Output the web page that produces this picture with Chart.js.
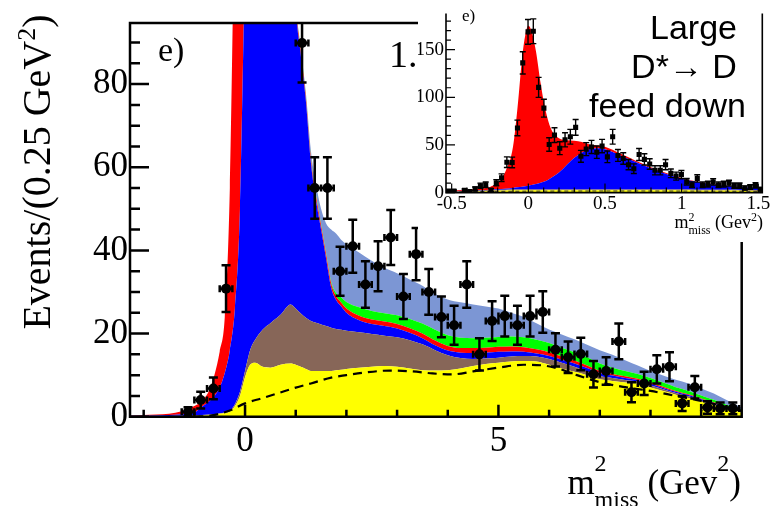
<!DOCTYPE html>
<html>
<head>
<meta charset="utf-8">
<script src="https://cdn.jsdelivr.net/npm/chart.js@4.4.1/dist/chart.umd.min.js"></script>
<style>
  html, body { margin: 0; padding: 0; background: #fff; }
  #wrap { position: relative; width: 771px; height: 506px; overflow: hidden; }
  #main { position: absolute; left: 0; top: 0; }
  #inset { position: absolute; left: 418px; top: 0; background: #fff; }
</style>
</head>
<body>
<div id="wrap">
  <canvas id="main" width="771" height="506"></canvas>
  <canvas id="inset" width="353" height="242"></canvas>
</div>
<script>
const SERIF = '"Liberation Serif", "Times New Roman", serif'
const SANS = '"Liberation Sans", Arial, sans-serif'

// ---------- main plot: fit components (upper edge of each stacked band) ----------
const modelX = [-2.27, -1.75, -1.5, -1.25, -1.0, -0.85, -0.7, -0.6, -0.5, -0.4, -0.3, -0.2, -0.1, 0, 0.1, 0.2, 0.35, 0.5, 0.7, 0.9,
  1.0, 1.1, 1.2, 1.3, 1.4, 1.5, 1.6, 1.7, 1.8, 1.9, 2.0, 2.25, 2.5, 2.75, 3.0, 3.25, 3.5, 3.75, 4.0, 4.25, 4.5, 4.75,
  5.0, 5.25, 5.5, 5.75, 6.0, 6.25, 6.5, 6.75, 7.0, 7.25, 7.5, 7.75, 8.0, 8.25, 8.5, 8.75, 9.0, 9.25, 9.5, 9.8]
const yellowTop = [0, 0, 0.05, 0.1, 0.2, 0.3, 0.4, 0.5, 0.7, 0.9, 1.2, 2.5, 5, 9.5, 12.5, 13, 12, 11.8, 12.5, 12.8,
  12.5, 12, 11.5, 11, 11, 11, 11, 11, 11.2, 11.3, 11.5, 11.8, 12, 12.2, 12, 11.6, 11.2, 11.1, 11.2, 11.6, 12.2, 12.7,
  13, 13.3, 13.4, 13.3, 12.5, 11.6, 10.8, 10, 9, 8.6, 8.2, 7.9, 7, 6.2, 5.3, 4.5, 3.6, 2.8, 1.9, 1.0]
const brownTop = [0.1, 0.1, 0.15, 0.2, 0.3, 0.4, 0.5, 0.6, 0.8, 1.0, 1.4, 3, 6, 11, 16, 18.5, 21, 22.5, 24.5, 27,
  26, 24.8, 23.8, 23, 22.6, 22.2, 21.8, 21.4, 21.1, 20.9, 20.7, 20.3, 19.9, 19.5, 19.1, 18.4, 17.4, 16.0, 14.8, 14.1, 13.9, 14.0,
  14.2, 14.5, 14.6, 14.5, 13.9, 13.0, 12.0, 10.9, 9.8, 9.3, 8.8, 8.4, 7.5, 6.6, 5.7, 4.9, 3.9, 3.1, 2.1, 1.2]
const blueTop = [0.2, 0.3, 0.4, 0.6, 1.0, 2.4, 3.8, 5, 7, 10.5, 16, 26, 50, 110, 160, 200, 220, 220, 200, 140,
  100, 87, 76, 61, 52, 45, 38, 31, 28, 26.5, 25, 23.2, 22.3, 21.8, 21.2, 20.2, 18.9, 17.2, 15.9, 15.4, 15.3, 15.4,
  15.6, 15.7, 15.6, 15.2, 14.6, 13.7, 12.8, 11.7, 10.5, 9.9, 9.3, 8.8, 7.9, 6.9, 6.0, 5.2, 4.2, 3.3, 2.3, 1.35]
const redTop = [0.3, 0.5, 0.7, 1.3, 2.6, 3.8, 6.5, 10.2, 15.7, 24, 55, 130, 200, 260, 280, 280, 260, 240, 208, 143,
  101.5, 88, 77, 62, 53, 46, 39, 32, 28.9, 27.4, 26, 24.3, 23.4, 22.9, 22.3, 21.3, 20.0, 18.3, 17.0, 16.5, 16.5, 16.6,
  16.8, 16.9, 16.7, 16.2, 15.5, 14.5, 13.5, 12.3, 11.0, 10.3, 9.7, 9.1, 8.2, 7.2, 6.2, 5.4, 4.4, 3.45, 2.4, 1.4]
const greenTop = [0.3, 0.5, 0.7, 1.3, 2.6, 3.8, 6.5, 10.2, 15.7, 24, 55, 130, 200, 260, 280, 280, 260, 240, 208, 143,
  101.8, 88.3, 77.3, 62.3, 53.3, 46.3, 39.3, 32.4, 29.7, 28.7, 27.6, 26.3, 25.4, 24.9, 24.4, 23.5, 22.4, 20.9, 19.6, 19.0, 18.9, 19.0,
  19.2, 19.3, 19.1, 18.5, 17.7, 16.6, 15.5, 14.3, 12.8, 11.8, 11.0, 10.3, 9.3, 8.2, 7.1, 6.2, 5.1, 4.05, 2.9, 1.7]
const totalTop = [0.3, 0.5, 0.7, 1.3, 2.6, 3.8, 6.5, 10.2, 15.7, 24, 55, 130, 200, 260, 280, 280, 260, 240, 208, 143,
  101.9, 88.6, 78, 64, 56, 50, 46.5, 45, 44, 42.5, 41.5, 39.5, 37.5, 35.8, 34.5, 33, 31.5, 29.5, 28.2, 27.5, 27, 26.5,
  26, 25, 24, 22.5, 21, 19.8, 18.6, 17.3, 16, 14.9, 13.6, 12.3, 11.0, 9.9, 8.9, 8.0, 6.8, 5.6, 4.0, 2.2]

const dashX = [-1.0, -0.66, -0.3, 0, 0.35, 0.69, 1.0, 1.3, 1.7, 2.0, 2.35, 2.85, 3.3, 3.7, 4.1, 4.5, 5.0, 5.5, 5.9, 6.2,
  6.5, 7.0, 7.5, 8.0, 8.5, 9.0, 9.6, 9.8]
const dashY = [0, 0.3, 1.5, 3.2, 4.5, 5.8, 7.0, 8.0, 9.4, 10.0, 10.6, 11.1, 10.9, 10.4, 10.2, 10.9, 11.8, 12.5, 12.3, 11.5,
  10.2, 8.3, 7.1, 6.2, 5.0, 3.8, 2.0, 1.4]

// data points (bins of 0.25 GeV^2), bins above the frame are left out
const dataX = [-1.125, -0.875, -0.625, -0.375, 1.125, 1.375, 1.625, 1.875, 2.125, 2.375, 2.625, 2.875, 3.125, 3.375, 3.625,
  3.875, 4.125, 4.375, 4.625, 4.875, 5.125, 5.375, 5.625, 5.875, 6.125, 6.375, 6.625, 6.875, 7.125, 7.375, 7.625, 7.875,
  8.125, 8.375, 8.625, 8.875, 9.125, 9.375, 9.625]
const dataY = [1.2, 4, 6.8, 30.8, 89.9, 55, 55, 35, 41, 31.8, 36.2, 43.1, 28.9, 39.1, 30.0, 24.0, 22.0, 31.8, 15.0, 23.0,
  24.2, 22.0, 24.2, 25.2, 16.1, 14.3, 15.1, 10.2, 11.0, 18.1, 5.9, 8.0, 11.4, 12.0, 3.2, 7.1, 2.2, 2.0, 2.0]
const dataErr = [1.1, 2, 2.6, 5.6, 9.5, 7.4, 7.4, 5.9, 6.4, 5.6, 6.0, 6.6, 5.4, 6.3, 5.5, 4.9, 4.7, 5.6, 3.9, 4.8,
  4.9, 4.7, 4.9, 5.0, 4.0, 3.8, 3.9, 3.2, 3.3, 4.3, 2.4, 2.8, 3.4, 3.5, 1.8, 2.7, 1.5, 1.4, 1.4]

const mainXTicks = [0, 5]
const mainXMinor = [-2, -1, 1, 2, 3, 4, 6, 7, 8, 9]
const mainYTicks = [0, 20, 40, 60, 80]
const mainYMinor = [5, 10, 15, 25, 30, 35, 45, 50, 55, 65, 70, 75, 85, 90]

// ---------- inset ----------
const insetModelX = [-0.54, -0.4, -0.3, -0.25, -0.2, -0.15, -0.1, -0.07, -0.04, -0.02, 0, 0.02, 0.05, 0.08, 0.1, 0.13, 0.16,
  0.2, 0.25, 0.3, 0.35, 0.4, 0.45, 0.5, 0.6, 0.7, 0.8, 0.9, 1.0, 1.1, 1.2, 1.3, 1.4, 1.53]
const insetYellowTop = [0.5, 1, 1.5, 1.8, 2, 2.2, 2.4, 2.5, 2.5, 2.5, 2.5, 2.5, 2.5, 2.5, 2.5, 2.5, 2.5,
  2.5, 2.5, 2.5, 2.5, 2.5, 2.5, 2.5, 2.5, 2.5, 2.5, 2.5, 2.4, 2.3, 2.2, 2.1, 2.0, 1.8]
const insetBrownTop = [1.2, 1.7, 2.3, 2.6, 2.8, 3.0, 3.2, 3.3, 3.3, 3.3, 3.3, 3.3, 3.3, 3.3, 3.3, 3.3, 3.3,
  3.3, 3.3, 3.3, 3.3, 3.3, 3.3, 3.3, 3.3, 3.3, 3.3, 3.3, 3.2, 3.1, 3.0, 2.9, 2.8, 2.6]
const insetBlueTop = [1.5, 2, 2.6, 3, 3.5, 4, 4.8, 5.5, 6.2, 6.7, 7.3, 7.9, 9, 10.3, 11.3, 13.5, 16.5,
  21, 29, 36.5, 42, 45.5, 46.5, 45.5, 39, 32, 25.5, 19.5, 14.5, 11, 8.5, 6.8, 5.5, 4.5]
const insetRedTop = [2, 3, 4.5, 6, 10.5, 22, 48, 90, 142, 165, 175, 170, 148, 115, 96, 75, 63,
  57, 55, 54.5, 53, 50.5, 49.5, 48, 41, 33.5, 26.7, 20.5, 15.3, 11.6, 9, 7.2, 5.8, 4.8]
const insetDashX = [-0.45, -0.2, 0.2, 0.6, 1.0, 1.52]
const insetDashY = [0.8, 1.3, 1.6, 1.7, 1.6, 1.3]

const insetX = [-0.52, -0.485, -0.416, -0.3815, -0.347, -0.3125, -0.278, -0.2435, -0.209, -0.1745,
  -0.14, -0.1055, -0.071, -0.0365, -0.002, 0.0325, 0.067, 0.1015, 0.136, 0.1705,
  0.205, 0.2395, 0.274, 0.3085, 0.343, 0.3775, 0.412, 0.4465, 0.481, 0.5155,
  0.55, 0.5845, 0.619, 0.6535, 0.688, 0.7225, 0.757, 0.7915, 0.826, 0.8605,
  0.895, 0.9295, 0.964, 0.9985, 1.033, 1.0675, 1.102, 1.1365, 1.171, 1.2055,
  1.24, 1.2745, 1.309, 1.3435, 1.378, 1.4125, 1.447, 1.4815, 1.516]
const insetY = [1.5, 1.5, 2.3, 1, 3.9, 7.2, 8.2, 2.6, 10.4, 15.6,
  31.9, 31.6, 67.8, 136.1, 168.6, 169.3, 110.4, 88.6, 50.5, 60.3,
  46.6, 55.4, 58.6, 68.4, 38.1, 45.6, 47.9, 42.4, 48.8, 37.5,
  58.6, 39, 35.8, 29.3, 25.1, 40, 34.9, 30, 23.4, 23.4,
  29.3, 20.2, 17.3, 18.9, 11.4, 8.3, 14.9, 8.3, 8.9, 11.3,
  8.3, 8.9, 9.9, 7.3, 7.3, 4.9, 5.9, 7.6, 3.5]
const insetErr = [1.2, 1.2, 1.5, 1, 2, 2.7, 2.9, 1.6, 3.2, 4,
  5.6, 5.6, 8.2, 11.7, 13, 13, 10.5, 9.4, 7.1, 7.8,
  6.8, 7.4, 7.7, 8.3, 6.2, 6.8, 6.9, 6.5, 7, 6.1,
  7.7, 6.2, 6, 5.4, 5, 6.3, 5.9, 5.5, 4.8, 4.8,
  5.4, 4.5, 4.2, 4.3, 3.4, 2.9, 3.9, 2.9, 3, 3.4,
  2.9, 3, 3.1, 2.7, 2.7, 2.2, 2.4, 2.8, 1.9]

const insetXTicks = [-0.5, 0, 0.5, 1, 1.5]
const insetXMinor = [-0.4, -0.3, -0.2, -0.1, 0.1, 0.2, 0.3, 0.4, 0.6, 0.7, 0.8, 0.9, 1.1, 1.2, 1.3, 1.4]
const insetYTicks = [0, 50, 100, 150]
const insetYMinor = [10, 20, 30, 40, 60, 70, 80, 90, 110, 120, 130, 140, 160, 170, 180]

// ---------- helpers ----------
const pts = (xs, ys) => xs.map((x, i) => ({ x: x, y: ys[i] }))

function band(xs, ys, color, fill) {
  return {
    data: pts(xs, ys), backgroundColor: color, borderColor: 'rgba(0,0,0,0)', borderWidth: 1,
    pointRadius: 0, fill: fill, order: 5, cubicInterpolationMode: 'monotone'
  }
}

function errorBars(id, xs, ys, errs, st) {
  return {
    id: id,
    afterDatasetsDraw(chart) {
      const { ctx, chartArea: a } = chart
      const sx = chart.scales.x, sy = chart.scales.y
      ctx.save()
      ctx.beginPath()
      ctx.rect(a.left, a.top, a.right - a.left, a.bottom - a.top)
      ctx.clip()
      ctx.strokeStyle = '#000'
      ctx.lineWidth = st.lw
      ctx.beginPath()
      xs.forEach((xv, i) => {
        const px = sx.getPixelForValue(xv), py = sy.getPixelForValue(ys[i])
        const top = sy.getPixelForValue(ys[i] + errs[i])
        const bot = sy.getPixelForValue(Math.max(0, ys[i] - errs[i]))
        ctx.moveTo(px, top); ctx.lineTo(px, bot)
        ctx.moveTo(px - st.cap, top); ctx.lineTo(px + st.cap, top)
        ctx.moveTo(px - st.cap, bot); ctx.lineTo(px + st.cap, bot)
        if (st.half) {
          const l = sx.getPixelForValue(xv - st.half), r = sx.getPixelForValue(xv + st.half)
          ctx.moveTo(l, py); ctx.lineTo(r, py)
          ctx.moveTo(l, py - st.xcap); ctx.lineTo(l, py + st.xcap)
          ctx.moveTo(r, py - st.xcap); ctx.lineTo(r, py + st.xcap)
        }
      })
      ctx.stroke()
      ctx.restore()
    }
  }
}

function frameTicks(id, t) {
  return {
    id: id,
    afterDatasetsDraw(chart) {
      const { ctx, chartArea: a } = chart
      const sx = chart.scales.x, sy = chart.scales.y
      ctx.save()
      ctx.strokeStyle = '#000'
      ctx.lineWidth = t.tickW
      ctx.beginPath()
      const xt = (vals, len) => vals.forEach(v => {
        const p = sx.getPixelForValue(v); ctx.moveTo(p, a.bottom); ctx.lineTo(p, a.bottom - len)
      })
      const yt = (vals, len) => vals.forEach(v => {
        const p = sy.getPixelForValue(v); ctx.moveTo(a.left, p); ctx.lineTo(a.left + len, p)
      })
      xt(t.xMajor, t.xMajorLen); xt(t.xMinor, t.xMinorLen)
      yt(t.yMajor, t.yMajorLen); yt(t.yMinor, t.yMinorLen)
      ctx.stroke()
      ctx.lineWidth = t.frameW
      ctx.beginPath()
      if (t.top) { ctx.moveTo(a.right, a.top); ctx.lineTo(a.left, a.top) } else ctx.moveTo(a.left, a.top)
      ctx.lineTo(a.left, a.bottom)
      ctx.lineTo(a.right, a.bottom)
      ctx.lineTo(a.right, a.top)
      ctx.stroke()
      ctx.restore()
    }
  }
}

function missLabel(ctx, xRight, base, big, small, up, down) {
  const fb = big + 'px ' + SERIF, fs = small + 'px ' + SERIF
  ctx.font = fb
  const wm = ctx.measureText('m').width, wg = ctx.measureText(' (Gev').width, wc = ctx.measureText(')').width
  ctx.font = fs
  const w2 = ctx.measureText('2').width, wmiss = ctx.measureText('miss').width
  let x = xRight - (wm + Math.max(w2, wmiss) + wg + w2 + wc)
  ctx.fillStyle = '#000'; ctx.textAlign = 'left'; ctx.textBaseline = 'alphabetic'
  ctx.font = fb; ctx.fillText('m', x, base); x += wm
  ctx.font = fs; ctx.fillText('2', x, base - up); ctx.fillText('miss', x, base + down); x += Math.max(w2, wmiss)
  ctx.font = fb; ctx.fillText(' (Gev', x, base); x += wg
  ctx.font = fs; ctx.fillText('2', x, base - up); x += w2
  ctx.font = fb; ctx.fillText(')', x, base)
}

function scaleOpts(min, max, ticks, size, pad, fit) {
  return {
    type: 'linear', min: min, max: max,
    grid: { display: false, drawTicks: false }, border: { display: false },
    afterBuildTicks: s => { s.ticks = ticks.map(v => ({ value: v })) },
    afterFit: fit,
    ticks: { color: '#000', font: { family: SERIF, size: size }, padding: pad, maxRotation: 0, autoSkip: false,
      callback: v => String(v) }
  }
}

// ---------- main chart ----------
const mainTexts = {
  id: 'mainTexts',
  afterDraw(chart) {
    const ctx = chart.ctx
    ctx.save()
    ctx.fillStyle = '#000'
    ctx.textBaseline = 'alphabetic'
    ctx.textAlign = 'left'
    ctx.font = '34px ' + SERIF
    ctx.fillText('e)', 158, 61)
    ctx.font = '38px ' + SERIF
    ctx.fillText('1.0', 389, 67)
    // y title
    ctx.save()
    ctx.translate(50, 172)
    ctx.rotate(-Math.PI / 2)
    ctx.font = '40px ' + SERIF
    const a = 'Events/(0.25 GeV', wa = ctx.measureText(a).width, wc = ctx.measureText(')').width
    ctx.font = '26px ' + SERIF
    const w2 = ctx.measureText('2').width
    let x = -(wa + w2 + wc) / 2
    ctx.font = '40px ' + SERIF; ctx.fillText(a, x, 0); x += wa
    ctx.font = '26px ' + SERIF; ctx.fillText('2', x, -15); x += w2
    ctx.font = '40px ' + SERIF; ctx.fillText(')', x, 0)
    ctx.restore()
    missLabel(ctx, 741, 494, 35, 24, 23, 13)
    ctx.restore()
  }
}

new Chart(document.getElementById('main'), {
  type: 'line',
  data: {
    datasets: [
      band(modelX, yellowTop, '#ffff00', 'origin'),
      band(modelX, brownTop, '#876658', '-1'),
      band(modelX, blueTop, '#0000ff', '-1'),
      band(modelX, redTop, '#ff0000', '-1'),
      band(modelX, greenTop, '#00ff00', '-1'),
      band(modelX, totalTop, '#7c96d4', '-1'),
      { data: pts(dashX, dashY), borderColor: '#000', borderWidth: 2.2, borderDash: [9, 6], pointRadius: 0,
        fill: false, order: 1, cubicInterpolationMode: 'monotone' },
      { data: pts(dataX, dataY), showLine: false, pointRadius: 5, pointBackgroundColor: '#000',
        pointBorderWidth: 0, order: 0 }
    ]
  },
  options: {
    responsive: false, animation: false, devicePixelRatio: 1,
    layout: { padding: { top: 15, right: 29.3, left: 0, bottom: 0 } },
    plugins: { legend: { display: false }, tooltip: { enabled: false } },
    scales: {
      x: scaleOpts(-2.27, 9.8, mainXTicks, 35, 4, s => { s.height = 89.3 }),
      y: scaleOpts(0, 94.7, mainYTicks, 35, 2, s => { s.width = 130 })
    }
  },
  plugins: [
    errorBars('mainErr', dataX, dataY, dataErr, { lw: 2.5, cap: 4.5, half: 0.125, xcap: 3.5 }),
    frameTicks('mainFrame', { tickW: 2.5, frameW: 2.5, top: true,
      xMajor: mainXTicks, xMinor: mainXMinor, xMajorLen: 12, xMinorLen: 7,
      yMajor: mainYTicks, yMinor: mainYMinor, yMajorLen: 19, yMinorLen: 10 }),
    mainTexts
  ]
})

// ---------- inset chart ----------
const insetTexts = {
  id: 'insetTexts',
  afterDraw(chart) {
    const ctx = chart.ctx
    ctx.save()
    ctx.fillStyle = '#000'
    ctx.textBaseline = 'alphabetic'
    ctx.textAlign = 'left'
    ctx.font = '17px ' + SERIF
    ctx.fillText('e)', 44, 21)
    ctx.textAlign = 'center'
    ctx.font = '34px ' + SANS
    ctx.fillText('Large', 275.5, 39)
    ctx.fillText('D*\u2192 D', 266, 78)
    ctx.fillText('feed down', 249.5, 117)
    missLabel(ctx, 345, 228, 18, 12, 7, 6)
    ctx.restore()
  }
}

new Chart(document.getElementById('inset'), {
  type: 'line',
  data: {
    datasets: [
      band(insetModelX, insetYellowTop, '#ffff00', 'origin'),
      band(insetModelX, insetBrownTop, '#876658', '-1'),
      band(insetModelX, insetBlueTop, '#0000ff', '-1'),
      band(insetModelX, insetRedTop, '#ff0000', '-1'),
      { data: pts(insetDashX, insetDashY), borderColor: '#333', borderWidth: 1, borderDash: [4, 3], pointRadius: 0,
        fill: false, order: 1, cubicInterpolationMode: 'monotone' },
      { data: pts(insetX, insetY), showLine: false, pointStyle: 'rect', pointRadius: 3.6, pointBackgroundColor: '#000',
        pointBorderWidth: 0, order: 0 }
    ]
  },
  options: {
    responsive: false, animation: false, devicePixelRatio: 1,
    layout: { padding: { top: 0, right: 8.7, left: 0, bottom: 0 } },
    plugins: { legend: { display: false }, tooltip: { enabled: false } },
    scales: {
      x: scaleOpts(-0.537, 1.526, insetXTicks, 19, 0, s => { s.height = 49.4 }),
      y: scaleOpts(0, 188, insetYTicks, 19, 2, s => { s.width = 28 })
    }
  },
  plugins: [
    errorBars('insetErr', insetX, insetY, insetErr, { lw: 1.4, cap: 3 }),
    frameTicks('insetFrame', { tickW: 1.2, frameW: 1.6, top: false,
      xMajor: insetXTicks, xMinor: insetXMinor, xMajorLen: 9, xMinorLen: 5,
      yMajor: insetYTicks, yMinor: insetYMinor, yMajorLen: 9, yMinorLen: 5 }),
    insetTexts
  ]
})
</script>
</body>
</html>
